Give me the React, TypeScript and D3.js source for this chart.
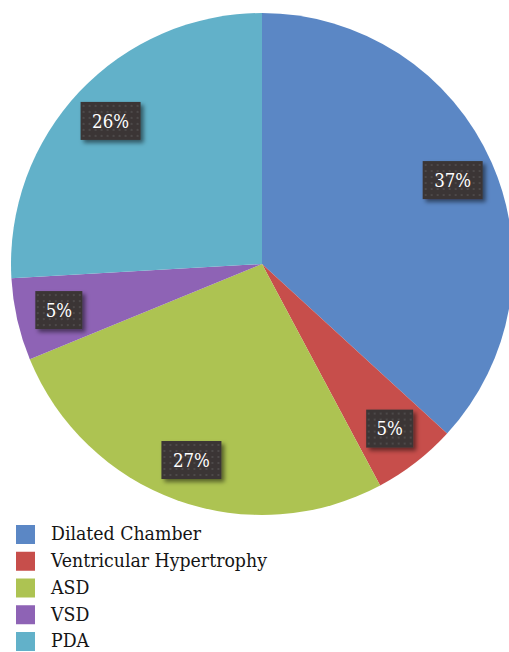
import React from "react";
import * as d3 from "d3";

const categories = ["Dilated Chamber", "Ventricular Hypertrophy", "ASD", "VSD", "PDA"];
const shares = [36.8, 5.4, 26.6, 5.3, 25.9];
const colors = ["#5b87c5", "#c74e4b", "#adc352", "#8e63b5", "#62b1c9"];

const serif = "'DejaVu Serif Condensed', 'DejaVu Serif', serif";

export default function App() {
    const width = 509;
    const height = 652;
    const cx = 262;
    const cy = 264;
    const radius = 251;

    const pie = d3.pie<number>().sort(null).value((d) => d);
    const arcs = pie(shares);
    const arc = d3.arc<d3.PieArcDatum<number>>().innerRadius(0).outerRadius(radius);
    const labelArc = d3
        .arc<d3.PieArcDatum<number>>()
        .innerRadius(radius * 0.83)
        .outerRadius(radius * 0.83);
    const total = d3.sum(shares);

    const legendY = d3.scaleLinear().domain([0, 4]).range([534, 641]);

    return (
        <svg
            width={width}
            height={height}
            style={{ position: "absolute", left: 0, top: 0, background: "#fff" }}
        >
            <defs>
                <pattern id="dots" width="6" height="6" patternUnits="userSpaceOnUse">
                    <rect width="6" height="6" fill="#3a3535" />
                    <circle cx="3" cy="3" r="1" fill="#534e4e" />
                </pattern>
                <filter id="shadow" x="-20%" y="-20%" width="150%" height="160%">
                    <feDropShadow dx="3" dy="3" stdDeviation="2" floodColor="#000" floodOpacity="0.5" />
                </filter>
            </defs>
            <g transform={`translate(${cx},${cy})`}>
                {arcs.map((a, i) => (
                    <path key={categories[i]} d={arc(a) ?? ""} fill={colors[i]} />
                ))}
                {arcs.map((a, i) => {
                    const [lx, ly] = labelArc.centroid(a);
                    const txt = `${Math.round((a.data / total) * 100)}%`;
                    const w = txt.length * 13 + 21;
                    const h = 38;
                    return (
                        <g key={`l${i}`} transform={`translate(${lx},${ly})`}>
                            <rect
                                x={-w / 2}
                                y={-h / 2}
                                width={w}
                                height={h}
                                fill="url(#dots)"
                                filter="url(#shadow)"
                            />
                            <text
                                textAnchor="middle"
                                dy="0.36em"
                                fill="#fff"
                                style={{ fontFamily: serif, fontSize: "18.5px" }}
                            >
                                {txt}
                            </text>
                        </g>
                    );
                })}
            </g>
            <g>
                {categories.map((c, i) => (
                    <g key={c} transform={`translate(16,${legendY(i)})`}>
                        <rect x={0} y={-9} width={19} height={19} fill={colors[i]} />
                        <text
                            x={35}
                            dy="0.33em"
                            fill="#151515"
                            style={{ fontFamily: serif, fontSize: "19.3px" }}
                        >
                            {c}
                        </text>
                    </g>
                ))}
            </g>
        </svg>
    );
}
